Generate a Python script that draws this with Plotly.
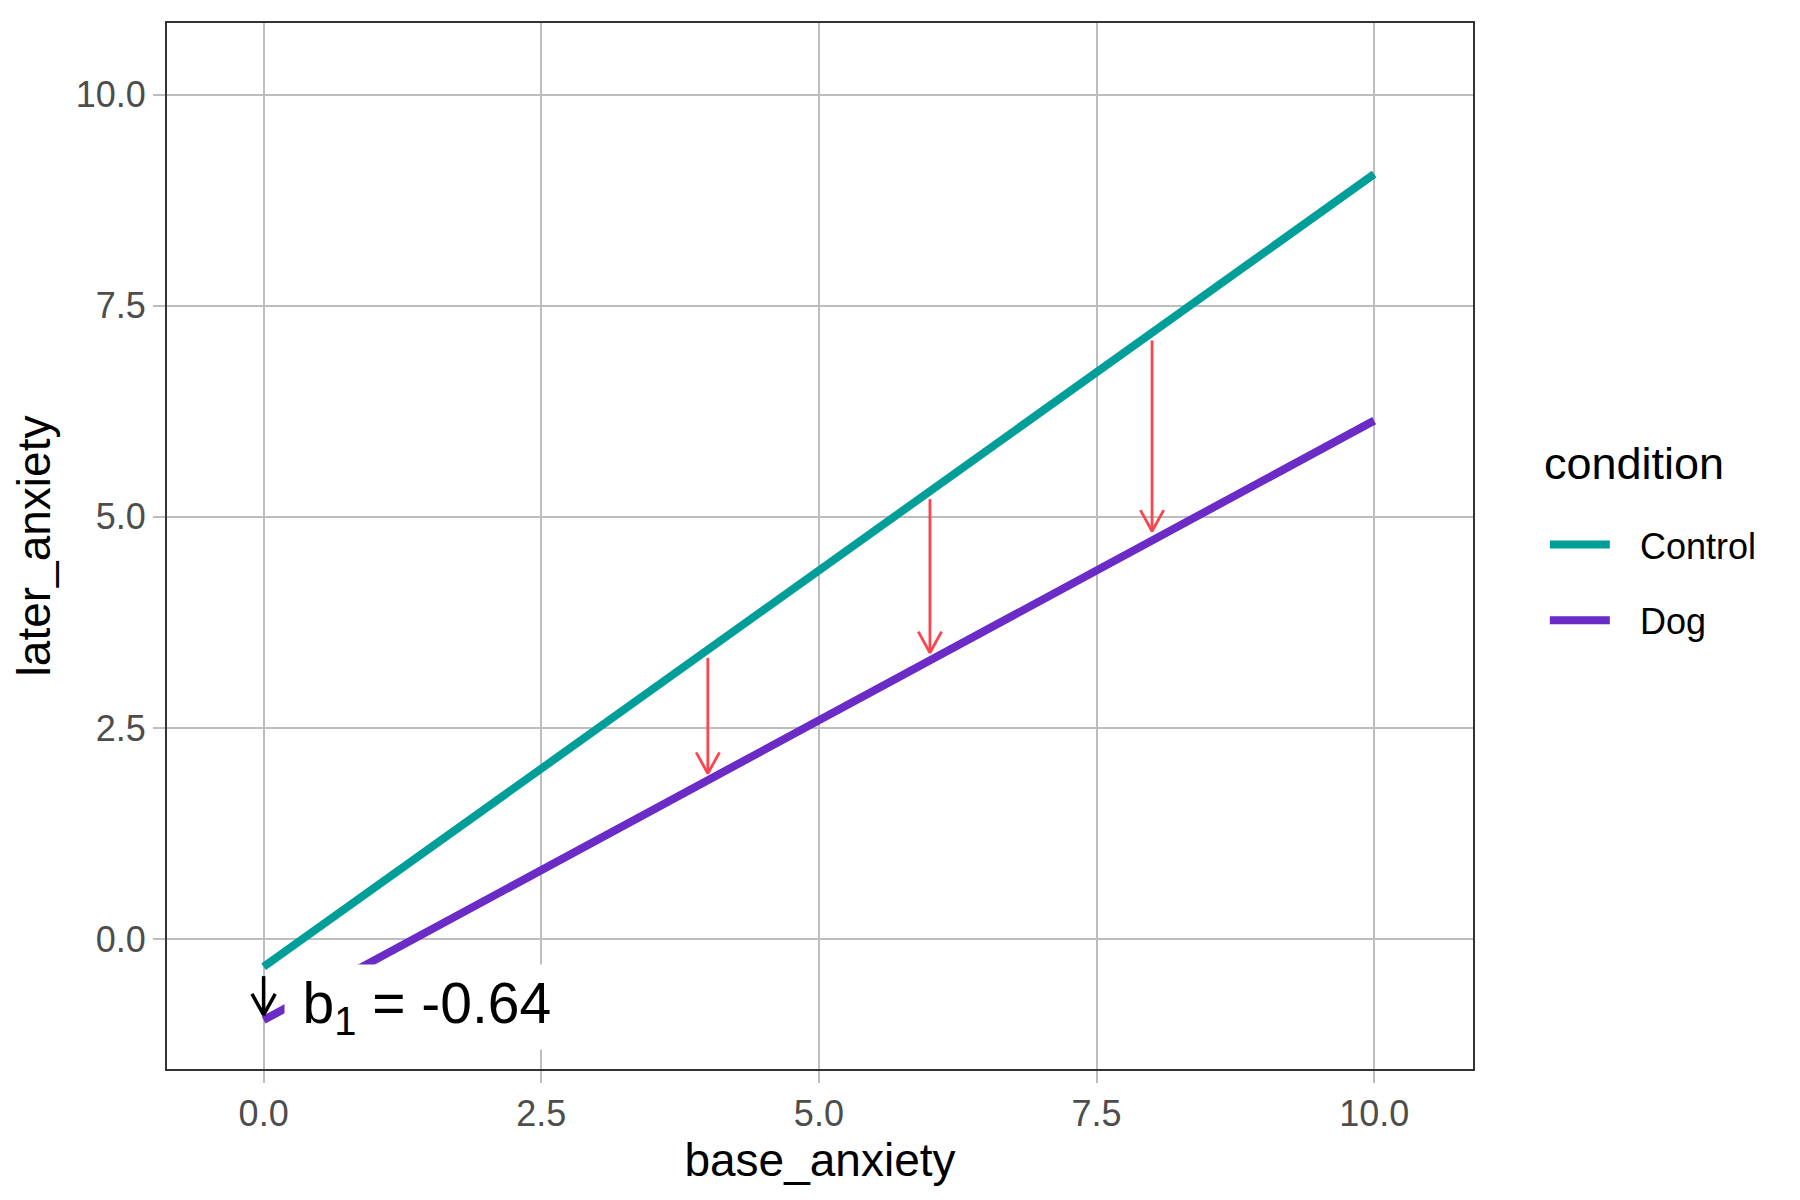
import plotly.graph_objects as go

# fitted lines for each condition
base_anxiety = [0, 10]
control_fit = [-0.33, 9.06]
dog_fit = [-0.96, 6.14]

# red arrows: gap between the two lines
gap_x = [4, 6, 8]
gap_from = [3.33, 5.21, 7.09]
gap_to = [1.96, 3.39, 4.83]

# intercept difference
b1_value = -0.64
b1_x = 0
b1_from = -0.44
b1_to = -0.90
b1_label_x = 0.185
b1_label_y = -0.80

ticks = [0, 2.5, 5, 7.5, 10]

FONT = "Liberation Sans, Arial, sans-serif"
TEAL = "#009E99"
PURPLE = "#6A2BC6"
RED = "#F9464F"
GRID = "#BDBDBD"
HEAD_W = 0.105   # arrow head half width, x units
HEAD_L = 0.25    # arrow head length, y units


def arrow_trace(xs, starts, ends, color, width):
    # open chevron arrows pointing from start to end
    px, py = [], []
    for x, y0, y1 in zip(xs, starts, ends):
        px += [x, x, None, x - HEAD_W, x, x + HEAD_W, None]
        py += [y0, y1, None, y1 + HEAD_L, y1, y1 + HEAD_L, None]
    return go.Scatter(x=px, y=py, mode="lines", showlegend=False, hoverinfo="skip",
                      line=dict(color=color, width=width))


def main():
    fig = go.Figure()
    fig.add_trace(go.Scatter(x=base_anxiety, y=control_fit, mode="lines", name="\u2002\u2009Control",
                             legendgroup="c", line=dict(color=TEAL, width=8)))
    fig.add_trace(go.Scatter(x=base_anxiety, y=dog_fit, mode="lines", name="\u2002\u2009Dog",
                             legendgroup="d", line=dict(color=PURPLE, width=8)))
    fig.add_trace(arrow_trace(gap_x, gap_from, gap_to, RED, 2.8))
    fig.add_trace(arrow_trace([b1_x], [b1_from], [b1_to], "black", 3.5))

    annotations = []
    label = "\u2009b<sub>1</sub> = " + f"{b1_value:.2f}"
    annotations.append(dict(x=b1_label_x, y=b1_label_y, xref="x", yref="y", xanchor="left",
                            yanchor="middle", text=label, showarrow=False,
                            bgcolor="white", borderpad=6,
                            font=dict(family=FONT, size=57, color="black")))
    # legend title
    annotations.append(dict(x=1.0525, y=0.5785, xref="paper", yref="paper", xanchor="left",
                            yanchor="middle", text="condition", showarrow=False,
                            font=dict(family=FONT, size=45, color="black")))

    axis_common = dict(
        tickvals=ticks, tickformat=".1f", showgrid=True, gridcolor=GRID, gridwidth=2,
        zeroline=False, showline=True, mirror=True, linecolor="#333333", linewidth=2,
        ticks="outside", ticklen=12, tickwidth=2, tickcolor=GRID,
        tickfont=dict(family=FONT, size=36, color="#4D4D4D"),
    )
    fig.update_layout(
        width=1800, height=1200,
        margin=dict(l=159, r=335, t=15, b=139),
        paper_bgcolor="white", plot_bgcolor="white",
        font=dict(family=FONT, color="black"),
        xaxis=dict(range=[-0.87, 10.89], title=dict(text="base_anxiety", standoff=8,
                   font=dict(family=FONT, size=46, color="black")), **axis_common),
        yaxis=dict(range=[-1.54, 10.85], title=dict(text="later_anxiety", standoff=14,
                   font=dict(family=FONT, size=46, color="black")), **axis_common),
        legend=dict(x=1.055, xanchor="left", y=0.465, yanchor="middle",
                    font=dict(family=FONT, size=36), itemwidth=60, tracegroupgap=26,
                    bgcolor="rgba(0,0,0,0)"),
        annotations=annotations,
    )
    fig.write_html("out.html")


if __name__ == "__main__":
    main()
